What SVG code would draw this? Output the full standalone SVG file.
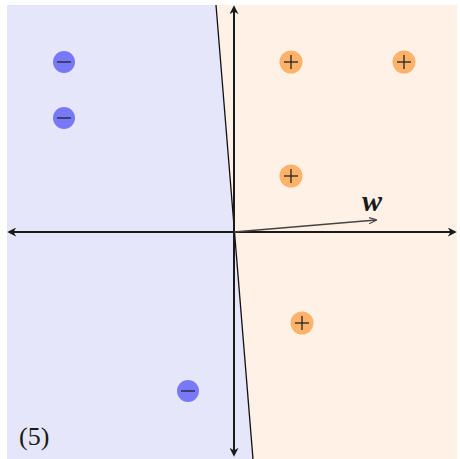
<svg xmlns="http://www.w3.org/2000/svg" width="460" height="459" viewBox="0 0 460 459">
<defs>
<style>
.ax{stroke:#1a1a1a;stroke-width:2;fill:none}
.neg circle{fill:#7878f8}
.pos circle{fill:#ffb26a}
.sym{stroke:#222;stroke-width:1.3}
.w{stroke:#444;stroke-width:1.3}
text{font-family:"Liberation Serif","DejaVu Serif",serif;fill:#1a1a1a}
</style>
<marker id="ah" viewBox="0 0 10 10" refX="8" refY="5" markerWidth="9" markerHeight="9" orient="auto-start-reverse" markerUnits="userSpaceOnUse">
<path d="M0,0 L10,5 L0,10 L3,5 z" fill="#1a1a1a"/>
</marker>
<marker id="ahw" viewBox="0 0 10 10" refX="9" refY="5" markerWidth="8" markerHeight="8" orient="auto" markerUnits="userSpaceOnUse">
<path d="M0,1 L10,5 L0,9" fill="none" stroke="#444" stroke-width="1.5"/>
</marker>
</defs>
<rect x="0" y="0" width="460" height="459" fill="#fff"/>
<polygon points="7,5 216,5 253,459 7,459" fill="#e6e6fb"/>
<polygon points="216,5 457,5 457,459 253,459" fill="#fff1e6"/>
<g id="connectors">
<line x1="216" y1="5" x2="253" y2="459" stroke="#111" stroke-width="1.3"/>
<line class="ax" x1="9" y1="232" x2="455" y2="232" marker-start="url(#ah)" marker-end="url(#ah)"/>
<line class="ax" x1="234" y1="7" x2="234" y2="455" marker-start="url(#ah)" marker-end="url(#ah)"/>
<line class="w" x1="234" y1="232" x2="376" y2="220" marker-end="url(#ahw)"/>
</g>
<text x="362" y="211" font-size="30" font-style="italic" font-weight="bold">w</text>
<g id="n1" class="neg"><circle cx="64" cy="62" r="11"/><line class="sym" x1="57" y1="62" x2="71" y2="62"/></g>
<g id="n2" class="neg"><circle cx="64" cy="118" r="11"/><line class="sym" x1="57" y1="118" x2="71" y2="118"/></g>
<g id="n3" class="neg"><circle cx="188" cy="391" r="11"/><line class="sym" x1="181" y1="391" x2="195" y2="391"/></g>
<g id="p1" class="pos"><circle cx="291" cy="62" r="11.5"/><line class="sym" x1="284" y1="62" x2="298" y2="62"/><line class="sym" x1="291" y1="55" x2="291" y2="69"/></g>
<g id="p2" class="pos"><circle cx="404" cy="62" r="11.5"/><line class="sym" x1="397" y1="62" x2="411" y2="62"/><line class="sym" x1="404" y1="55" x2="404" y2="69"/></g>
<g id="p3" class="pos"><circle cx="291" cy="176" r="11.5"/><line class="sym" x1="284" y1="176" x2="298" y2="176"/><line class="sym" x1="291" y1="169" x2="291" y2="183"/></g>
<g id="p4" class="pos"><circle cx="302" cy="323" r="11.5"/><line class="sym" x1="295" y1="323" x2="309" y2="323"/><line class="sym" x1="302" y1="316" x2="302" y2="330"/></g>
<text x="19" y="445" font-size="26">(5)</text>
</svg>
